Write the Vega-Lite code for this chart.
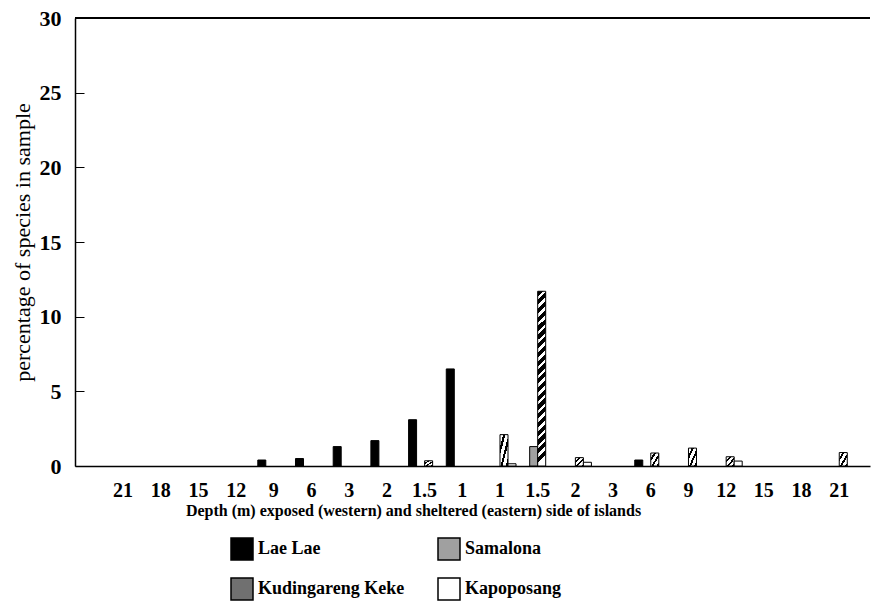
{
  "$schema": "https://vega.github.io/schema/vega-lite/v6.json",
  "width": 795,
  "height": 448,
  "autosize": {"type": "none"},
  "padding": {"left": 75, "top": 18, "right": 4, "bottom": 135},
  "background": "white",
  "config": {
    "view": {"stroke": null},
    "font": "Liberation Serif",
    "axis": {"domainColor": "black", "domainWidth": 1.5, "grid": false, "labelColor": "black", "titleColor": "black"}
  },
  "data": {
    "values": [
      {"site": "exposed-9", "island": "Lae Lae", "pct": 0.4},
      {"site": "exposed-6", "island": "Lae Lae", "pct": 0.5},
      {"site": "exposed-3", "island": "Lae Lae", "pct": 1.3},
      {"site": "exposed-2", "island": "Lae Lae", "pct": 1.7},
      {"site": "exposed-1.5", "island": "Lae Lae", "pct": 3.1},
      {"site": "exposed-1", "island": "Lae Lae", "pct": 6.5},
      {"site": "sheltered-6", "island": "Lae Lae", "pct": 0.4},
      {"site": "sheltered-1.5", "island": "Samalona", "pct": 1.3},
      {"site": "exposed-1.5", "island": "Kudingareng Keke", "pct": 0.35},
      {"site": "sheltered-1", "island": "Kudingareng Keke", "pct": 2.1},
      {"site": "sheltered-1.5", "island": "Kudingareng Keke", "pct": 11.7},
      {"site": "sheltered-2", "island": "Kudingareng Keke", "pct": 0.56},
      {"site": "sheltered-6", "island": "Kudingareng Keke", "pct": 0.87},
      {"site": "sheltered-9", "island": "Kudingareng Keke", "pct": 1.2},
      {"site": "sheltered-12", "island": "Kudingareng Keke", "pct": 0.62},
      {"site": "sheltered-21", "island": "Kudingareng Keke", "pct": 0.9},
      {"site": "sheltered-1", "island": "Kapoposang", "pct": 0.15},
      {"site": "sheltered-2", "island": "Kapoposang", "pct": 0.25},
      {"site": "sheltered-12", "island": "Kapoposang", "pct": 0.33}
    ]
  },
  "layer": [
    {
      "mark": {"type": "rule", "color": "black", "strokeWidth": 1.5},
      "encoding": {"y": {"datum": 30, "type": "quantitative"}}
    },
    {
      "mark": {"type": "bar", "stroke": "black", "strokeWidth": 1},
      "encoding": {
        "x": {
          "field": "site",
          "type": "nominal",
          "scale": {
            "domain": ["exposed-21", "exposed-18", "exposed-15", "exposed-12", "exposed-9", "exposed-6", "exposed-3", "exposed-2", "exposed-1.5", "exposed-1",
                       "sheltered-1", "sheltered-1.5", "sheltered-2", "sheltered-3", "sheltered-6", "sheltered-9", "sheltered-12", "sheltered-15", "sheltered-18", "sheltered-21"],
            "paddingInner": 0.15,
            "paddingOuter": 0.62,
            "align": 0.685,
            "round": false
          },
          "axis": {
            "title": "Depth (m) exposed (western) and sheltered (eastern) side of islands",
            "labelExpr": "split(datum.label, '-')[1]",
            "labelAngle": 0,
            "ticks": false,
            "labelFont": "Liberation Serif",
            "labelFontSize": 20,
            "labelFontWeight": "bold",
            "labelPadding": 14,
            "titleFont": "Liberation Serif",
            "titleFontSize": 16,
            "titleFontWeight": "bold",
            "titleX": 338,
            "titlePadding": 2
          }
        },
        "xOffset": {
          "field": "island",
          "type": "nominal",
          "scale": {"domain": ["Lae Lae", "Samalona", "Kudingareng Keke", "Kapoposang"], "paddingInner": 0, "paddingOuter": 0}
        },
        "y": {
          "field": "pct",
          "type": "quantitative",
          "scale": {"domain": [0, 30], "nice": false},
          "axis": {
            "title": "percentage of species in sample",
            "values": [0, 5, 10, 15, 20, 25, 30],
            "tickSize": -9,
            "tickColor": "black",
            "tickWidth": 1,
            "labelFont": "Liberation Serif",
            "labelFontSize": 22,
            "labelFontWeight": "bold",
            "labelPadding": 23,
            "titleFont": "Liberation Serif",
            "titleFontSize": 22,
            "titleFontWeight": "normal",
            "titlePadding": 5
          }
        },
        "fill": {
          "field": "island",
          "type": "nominal",
          "condition": [
            {
              "test": "datum.island === 'Kudingareng Keke' && datum.pct > 5",
              "value": {
                "gradient": "linear", "x1": 0, "y1": 0, "x2": 0.0457, "y2": 1,
                "stops": [
                  {"offset": 0.00, "color": "black"}, {"offset": 0.03, "color": "black"}, {"offset": 0.03, "color": "white"}, {"offset": 0.05, "color": "white"},
                  {"offset": 0.05, "color": "black"}, {"offset": 0.08, "color": "black"}, {"offset": 0.08, "color": "white"}, {"offset": 0.10, "color": "white"},
                  {"offset": 0.10, "color": "black"}, {"offset": 0.13, "color": "black"}, {"offset": 0.13, "color": "white"}, {"offset": 0.15, "color": "white"},
                  {"offset": 0.15, "color": "black"}, {"offset": 0.18, "color": "black"}, {"offset": 0.18, "color": "white"}, {"offset": 0.20, "color": "white"},
                  {"offset": 0.20, "color": "black"}, {"offset": 0.23, "color": "black"}, {"offset": 0.23, "color": "white"}, {"offset": 0.25, "color": "white"},
                  {"offset": 0.25, "color": "black"}, {"offset": 0.28, "color": "black"}, {"offset": 0.28, "color": "white"}, {"offset": 0.30, "color": "white"},
                  {"offset": 0.30, "color": "black"}, {"offset": 0.33, "color": "black"}, {"offset": 0.33, "color": "white"}, {"offset": 0.35, "color": "white"},
                  {"offset": 0.35, "color": "black"}, {"offset": 0.38, "color": "black"}, {"offset": 0.38, "color": "white"}, {"offset": 0.40, "color": "white"},
                  {"offset": 0.40, "color": "black"}, {"offset": 0.43, "color": "black"}, {"offset": 0.43, "color": "white"}, {"offset": 0.45, "color": "white"},
                  {"offset": 0.45, "color": "black"}, {"offset": 0.48, "color": "black"}, {"offset": 0.48, "color": "white"}, {"offset": 0.50, "color": "white"},
                  {"offset": 0.50, "color": "black"}, {"offset": 0.53, "color": "black"}, {"offset": 0.53, "color": "white"}, {"offset": 0.55, "color": "white"},
                  {"offset": 0.55, "color": "black"}, {"offset": 0.58, "color": "black"}, {"offset": 0.58, "color": "white"}, {"offset": 0.60, "color": "white"},
                  {"offset": 0.60, "color": "black"}, {"offset": 0.63, "color": "black"}, {"offset": 0.63, "color": "white"}, {"offset": 0.65, "color": "white"},
                  {"offset": 0.65, "color": "black"}, {"offset": 0.68, "color": "black"}, {"offset": 0.68, "color": "white"}, {"offset": 0.70, "color": "white"},
                  {"offset": 0.70, "color": "black"}, {"offset": 0.73, "color": "black"}, {"offset": 0.73, "color": "white"}, {"offset": 0.75, "color": "white"},
                  {"offset": 0.75, "color": "black"}, {"offset": 0.78, "color": "black"}, {"offset": 0.78, "color": "white"}, {"offset": 0.80, "color": "white"},
                  {"offset": 0.80, "color": "black"}, {"offset": 0.83, "color": "black"}, {"offset": 0.83, "color": "white"}, {"offset": 0.85, "color": "white"},
                  {"offset": 0.85, "color": "black"}, {"offset": 0.88, "color": "black"}, {"offset": 0.88, "color": "white"}, {"offset": 0.90, "color": "white"},
                  {"offset": 0.90, "color": "black"}, {"offset": 0.93, "color": "black"}, {"offset": 0.93, "color": "white"}, {"offset": 0.95, "color": "white"},
                  {"offset": 0.95, "color": "black"}, {"offset": 0.98, "color": "black"}, {"offset": 0.98, "color": "white"}, {"offset": 1.00, "color": "white"}
                ]
              }
            },
            {
              "test": "datum.island === 'Kudingareng Keke'",
              "value": {
                "gradient": "linear", "x1": 0, "y1": 0, "x2": 1, "y2": 1,
                "stops": [
                  {"offset": 0.000, "color": "white"}, {"offset": 0.20, "color": "white"}, {"offset": 0.20, "color": "black"}, {"offset": 0.33, "color": "black"},
                  {"offset": 0.33, "color": "white"}, {"offset": 0.53, "color": "white"}, {"offset": 0.53, "color": "black"}, {"offset": 0.66, "color": "black"},
                  {"offset": 0.66, "color": "white"}, {"offset": 0.86, "color": "white"}, {"offset": 0.86, "color": "black"}, {"offset": 1.00, "color": "black"}
                ]
              }
            }
          ],
          "scale": {
            "domain": ["Lae Lae", "Samalona", "Kudingareng Keke", "Kapoposang"],
            "range": ["#000000", "#a0a0a0", "#707070", "#ffffff"]
          },
          "legend": {
            "title": null,
            "orient": "none",
            "legendX": 155,
            "legendY": 519,
            "direction": "horizontal",
            "columns": 2,
            "columnPadding": 30,
            "rowPadding": 12,
            "padding": 0,
            "symbolType": "square",
            "symbolSize": 484,
            "symbolStrokeColor": "black",
            "symbolStrokeWidth": 1.5,
            "labelFont": "Liberation Serif",
            "labelFontSize": 18,
            "labelFontWeight": "bold",
            "labelColor": "black",
            "labelOffset": 4,
            "labelLimit": 300
          }
        }
      }
    }
  ]
}
